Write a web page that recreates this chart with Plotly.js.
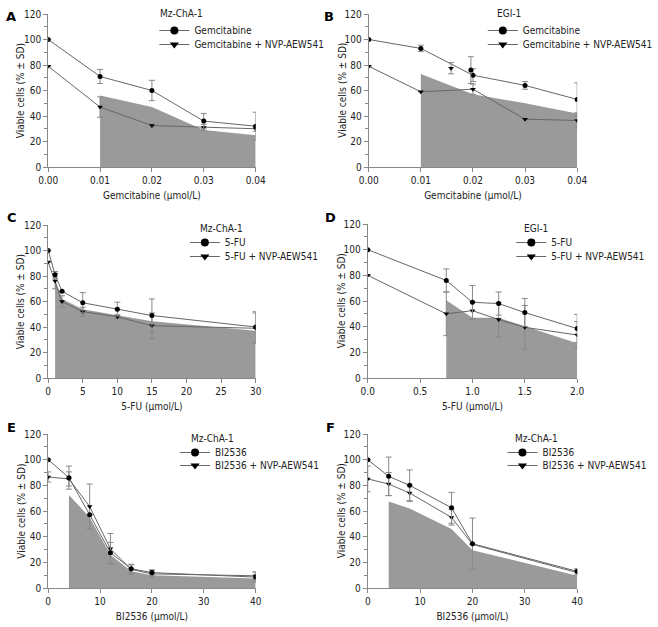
<!DOCTYPE html>
<html>
<head>
<meta charset="utf-8">
<script src="https://cdn.plot.ly/plotly-3.0.1.min.js"></script>
<style>html,body{margin:0;padding:0;background:#fff}</style>
</head>
<body>
<div id="chart" style="width:658px;height:627px"></div>
<script>
// ---- Data ----
// Panel A: Mz-ChA-1, Gemcitabine
var xA = [0, 0.01, 0.02, 0.03, 0.04];
var gemA = [100, 71, 60, 36, 32];
var gemA_sd = [0, 5.5, 8, 6, 11];
var comboA = [79, 47, 32.5, 31, 30];
var comboA_sd = [0, 8, 1, 2.5, 2];
var shadeA_x = [0.01, 0.02, 0.03, 0.04];
var shadeA_y = [56, 47, 29, 25];

// Panel B: EGI-1, Gemcitabine
var xB = [0, 0.01, 0.02, 0.03, 0.04];
var gemB = [100, 93, 72, 64, 53];
var gemB_sd = [0, 2.5, 5, 3, 13];
var comboB = [79, 59, 61, 37.5, 36.5];
var comboB_sd = [0, 0, 4, 0, 6];
var strayB_gem_x = [0.0196];
var strayB_gem = [76];
var strayB_gem_sd = [10.5];
var strayB_combo_x = [0.0158];
var strayB_combo = [77.5];
var strayB_combo_sd = [4.4];
var shadeB_x = [0.01, 0.02, 0.03, 0.04];
var shadeB_y = [73, 57, 50, 42];

// Panel C: Mz-ChA-1, 5-FU
var xC = [0, 1, 2, 5, 10, 15, 30];
var fuC = [100, 81, 68, 59, 54, 49, 40];
var fuC_sd = [0, 2.5, 0, 8, 5.5, 13, 12];
var comboC = [91, 76, 60, 52, 48, 41, 39];
var comboC_sd = [0, 6, 4.5, 3.5, 1.5, 10, 12];
var shadeC_x = [1, 2, 5, 10, 15, 30];
var shadeC_y = [77, 62, 54, 49.5, 44.5, 37];

// Panel D: EGI-1, 5-FU
var xD = [0, 0.75, 1.0, 1.25, 1.5, 2.0];
var fuD = [100, 76, 59, 58, 51, 38.5];
var fuD_sd = [0, 9, 13, 9, 11, 11];
var comboD = [80, 50, 52.5, 45.5, 39.5, 33.5];
var comboD_sd = [0, 17, 7, 13.5, 17, 10.5];
var shadeD_x = [0.75, 1.0, 1.25, 1.5, 2.0];
var shadeD_y = [60.5, 47, 47, 40.5, 27];

// Panel E: Mz-ChA-1, BI2536
var xE = [0, 4, 8, 12, 16, 20, 40];
var biE = [100, 86, 57, 27.5, 15, 12, 8.5];
var biE_sd = [0, 9, 0, 8, 3, 2, 4];
var comboE = [86.5, 85, 63.5, 30.5, 14.5, 11, 9.5];
var comboE_sd = [4, 5.5, 17.5, 12, 4, 3, 3];
var shadeE_x = [4, 8, 12, 16, 20, 40];
var shadeE_y = [72.5, 55, 26, 13, 10, 7.5];

// Panel F: Mz-ChA-1, BI2536
var xF = [0, 4, 8, 16, 20, 40];
var biF = [100, 87, 80, 62.5, 34.5, 13];
var biF_sd = [0, 15, 12, 12, 20, 2];
var comboF = [85, 81, 74, 55, 34, 12];
var comboF_sd = [10, 9, 6.5, 6, 0, 2];
var shadeF_x = [4, 8, 16, 20, 40];
var shadeF_y = [67.5, 62, 46, 29.5, 9.5];

var yTitle = 'Viable cells (% ± SD)';

// ---- Style ----
var FONT = 'DejaVu Sans Condensed, DejaVu Sans, sans-serif';
var TXT = '#222222';
var LINE = '#666666';
var ERR = '#888888';
var SHADE = '#9a9a9a';
var W = 658, H = 627;

var traces = [];
function lname(k) { return k === 1 ? 'legend' : 'legend' + k; }
function addPanel(n, shadeX, shadeY, x, s1, s1sd, s2, s2sd, name1, name2) {
  var xa = n === 1 ? 'x' : 'x' + n, ya = n === 1 ? 'y' : 'y' + n;
  traces.push({type: 'scatter', mode: 'lines', x: shadeX, y: shadeY, xaxis: xa, yaxis: ya,
    fill: 'tozeroy', fillcolor: SHADE, line: {width: 0, color: SHADE}, showlegend: false, hoverinfo: 'skip'});
  traces.push({type: 'scatter', mode: 'lines+markers', x: x, y: s2, xaxis: xa, yaxis: ya,
    line: {color: LINE, width: 1}, marker: {symbol: 'triangle-down', size: 5, color: '#000'},
    error_y: {type: 'data', array: s2sd, color: ERR, thickness: 1, width: 3}, showlegend: false});
  traces.push({type: 'scatter', mode: 'lines+markers', x: x, y: s1, xaxis: xa, yaxis: ya,
    line: {color: LINE, width: 1}, marker: {symbol: 'circle', size: 5, color: '#000'},
    error_y: {type: 'data', array: s1sd, color: ERR, thickness: 1, width: 3}, showlegend: false});
  traces.push({type: 'scatter', mode: 'lines+markers', x: [null], y: [null], xaxis: xa, yaxis: ya,
    name: name1, legend: lname(n), line: {color: LINE, width: 1}, marker: {symbol: 'circle', size: 8, color: '#000'}});
  traces.push({type: 'scatter', mode: 'lines+markers', x: [null], y: [null], xaxis: xa, yaxis: ya,
    name: name2, legend: lname(n + 6), line: {color: LINE, width: 1}, marker: {symbol: 'triangle-down', size: 8, color: '#000'}});
}

addPanel(1, shadeA_x, shadeA_y, xA, gemA, gemA_sd, comboA, comboA_sd, 'Gemcitabine', 'Gemcitabine + NVP-AEW541');
addPanel(2, shadeB_x, shadeB_y, xB, gemB, gemB_sd, comboB, comboB_sd, 'Gemcitabine', 'Gemcitabine + NVP-AEW541');
traces.push({type: 'scatter', mode: 'markers', x: strayB_gem_x, y: strayB_gem, xaxis: 'x2', yaxis: 'y2',
  marker: {symbol: 'circle', size: 5, color: '#000'}, error_y: {type: 'data', array: strayB_gem_sd, color: ERR, thickness: 1, width: 3}, showlegend: false});
traces.push({type: 'scatter', mode: 'markers', x: strayB_combo_x, y: strayB_combo, xaxis: 'x2', yaxis: 'y2',
  marker: {symbol: 'triangle-down', size: 5, color: '#000'}, error_y: {type: 'data', array: strayB_combo_sd, color: ERR, thickness: 1, width: 3}, showlegend: false});
addPanel(3, shadeC_x, shadeC_y, xC, fuC, fuC_sd, comboC, comboC_sd, '5-FU', '5-FU + NVP-AEW541');
addPanel(4, shadeD_x, shadeD_y, xD, fuD, fuD_sd, comboD, comboD_sd, '5-FU', '5-FU + NVP-AEW541');
addPanel(5, shadeE_x, shadeE_y, xE, biE, biE_sd, comboE, comboE_sd, 'BI2536', 'BI2536 + NVP-AEW541');
addPanel(6, shadeF_x, shadeF_y, xF, biF, biF_sd, comboF, comboF_sd, 'BI2536', 'BI2536 + NVP-AEW541');

function dx(a, b) { return [a / W, b / W]; }
function dy(top, bottom) { return [1 - bottom / H, 1 - top / H]; }

function xaxis(dom, anchor, range, dtick, fmt, title) {
  return {domain: dom, anchor: anchor, range: range, dtick: dtick, tick0: 0, tickformat: fmt,
    showgrid: false, zeroline: false, showline: true, linecolor: '#888', linewidth: 1,
    ticks: 'outside', ticklen: 4, tickcolor: '#888', tickfont: {family: FONT, size: 10, color: TXT},
    title: {text: title, font: {family: FONT, size: 10, color: TXT}, standoff: 6}, fixedrange: true};
}
function yaxis(dom, anchor) {
  return {domain: dom, anchor: anchor, range: [0, 120], dtick: 20, tick0: 0,
    showgrid: false, zeroline: false, showline: true, linecolor: '#888', linewidth: 1,
    ticks: 'outside', ticklen: 4, tickcolor: '#888', tickfont: {family: FONT, size: 10, color: TXT},
    minor: {dtick: 10, ticks: 'outside', ticklen: 3, tickcolor: '#888'}, fixedrange: true};
}
function legend(textStart, rowY) {
  return {x: (textStart - 40) / W, y: 1 - (rowY - 10) / H, xanchor: 'left', yanchor: 'top', bgcolor: 'rgba(0,0,0,0)',
    borderwidth: 0, font: {family: FONT, size: 10, color: TXT}, tracegroupgap: 0};
}
function letter(t, x, y) {
  return {text: '<b>' + t + '</b>', x: x / W, y: 1 - y / H, xref: 'paper', yref: 'paper',
    showarrow: false, xanchor: 'center', yanchor: 'middle', font: {family: 'DejaVu Sans, sans-serif', size: 13, color: '#000'}};
}
function ltitle(t, x, y) {
  return {text: t, x: x / W, y: 1 - y / H, xref: 'paper', yref: 'paper',
    showarrow: false, xanchor: 'left', yanchor: 'middle', font: {family: FONT, size: 10, color: TXT}};
}
function ytitle(x, top, bottom) {
  return {text: yTitle, textangle: -90, x: x / W, y: 1 - (top + bottom) / 2 / H, xref: 'paper', yref: 'paper',
    showarrow: false, xanchor: 'center', yanchor: 'middle', font: {family: FONT, size: 10, color: TXT}};
}

var layout = {
  width: W, height: H, margin: {l: 0, r: 0, t: 0, b: 0},
  paper_bgcolor: '#fff', plot_bgcolor: '#fff', showlegend: true,
  xaxis: xaxis(dx(49, 260), 'y', [0, 0.04], 0.01, '.2f', 'Gemcitabine (μmol/L)'),
  yaxis: yaxis(dy(14, 167), 'x'),
  xaxis2: xaxis(dx(375, 587), 'y2', [0, 0.04], 0.01, '.2f', 'Gemcitabine (μmol/L)'),
  yaxis2: yaxis(dy(14, 167), 'x2'),
  xaxis3: xaxis(dx(49, 260), 'y3', [0, 30], 5, 'd', '5-FU (μmol/L)'),
  yaxis3: yaxis(dy(225, 378), 'x3'),
  xaxis4: xaxis(dx(374, 587), 'y4', [0, 2], 0.5, '.1f', '5-FU (μmol/L)'),
  yaxis4: yaxis(dy(224, 378), 'x4'),
  xaxis5: xaxis(dx(49, 260), 'y5', [0, 40], 10, 'd', 'BI2536 (μmol/L)'),
  yaxis5: yaxis(dy(434, 588), 'x5'),
  xaxis6: xaxis(dx(374, 587), 'y6', [0, 40], 10, 'd', 'BI2536 (μmol/L)'),
  yaxis6: yaxis(dy(434, 588), 'x6'),
  legend: legend(197, 26),
  legend7: legend(197, 40),
  legend2: legend(531, 26),
  legend8: legend(531, 40),
  legend3: legend(228, 238),
  legend9: legend(228, 252),
  legend4: legend(560, 238),
  legend10: legend(560, 252),
  legend5: legend(218, 448),
  legend11: legend(218, 461),
  legend6: legend(551, 448),
  legend12: legend(551, 461),
  annotations: [letter('A', 11, 17), letter('B', 335, 17), letter('C', 12, 217),
                letter('D', 336, 217), letter('E', 12, 427), letter('F', 336, 427),
                ltitle('Mz-ChA-1', 161, 14), ltitle('EGI-1', 503, 14),
                ltitle('Mz-ChA-1', 201, 228), ltitle('EGI-1', 531, 228),
                ltitle('Mz-ChA-1', 192, 438), ltitle('Mz-ChA-1', 522, 438),
                ytitle(21, 14, 167), ytitle(348, 14, 167),
                ytitle(21, 225, 378), ytitle(347, 224, 378),
                ytitle(21, 434, 588), ytitle(347, 434, 588)]
};

Plotly.newPlot('chart', traces, layout, {staticPlot: true, displayModeBar: false});
</script>
</body>
</html>
